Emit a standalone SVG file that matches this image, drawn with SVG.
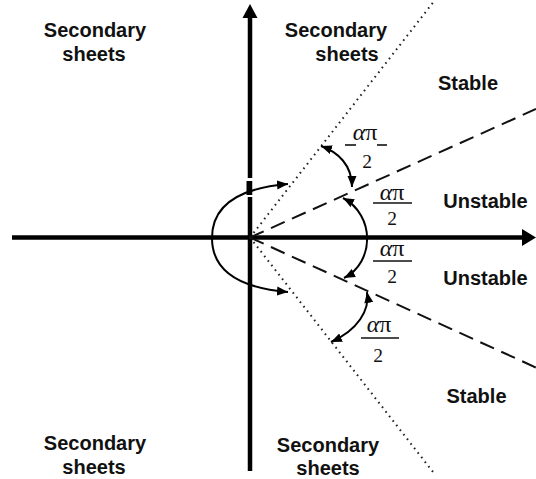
<svg xmlns="http://www.w3.org/2000/svg" width="536" height="479" viewBox="0 0 536 479">
<style>
.lbl{font-family:"Liberation Sans",Arial,sans-serif;font-weight:bold;font-size:20px;fill:#111;text-anchor:middle}
.fr{font-family:"Liberation Serif","Times New Roman",serif;fill:#111;text-anchor:middle}
.num{font-size:24px}
.den{font-size:19.5px}
.bar{stroke:#111;stroke-width:1.6}
.axis{stroke:#000;stroke-width:4.5;fill:none}
.dot{stroke:#222;stroke-width:2;stroke-dasharray:1.6 4.2;fill:none}
.dash{stroke:#111;stroke-width:2;stroke-dasharray:15 8;fill:none}
.arc{stroke:#000;stroke-width:2;fill:none;marker-start:url(#ah);marker-end:url(#ah)}
</style>
<defs>
<marker id="ah" markerUnits="userSpaceOnUse" markerWidth="12" markerHeight="10" refX="11" refY="5" orient="auto-start-reverse" viewBox="0 0 12 10">
<path d="M0,0.5 L11,5 L0,9.5 Z" fill="#000"/>
</marker>
</defs>
<rect width="536" height="479" fill="#fff"/>
<g id="axes">
<line class="axis" x1="12" y1="237.5" x2="523" y2="237.5"/>
<path d="M522,229 L536,237.5 L522,246 Z" fill="#000"/>
<line class="axis" x1="250" y1="17" x2="250" y2="471"/>
<path d="M242.5,18 L250,4 L257.5,18 Z" fill="#000"/>
<rect x="246" y="178" width="8" height="3" fill="#fff"/>
<rect x="246" y="195" width="8" height="2" fill="#fff"/>
<rect x="246.5" y="181" width="5.5" height="14" fill="#000"/>
</g>
<g id="rays">
<line class="dot" x1="250" y1="237.5" x2="435" y2="0"/>
<line class="dot" x1="250" y1="237.5" x2="433" y2="472"/>
<line class="dash" x1="250" y1="237.5" x2="536" y2="109"/>
<line class="dash" x1="250" y1="237.5" x2="537" y2="368"/>
</g>
<g id="connectors">
<path class="arc" d="M288,184 C240,188 212,205 212,238 C212,271 240,288 288,292"/>
<path class="arc" d="M321,146 C338,152 352,165 352,187"/>
<path class="arc" d="M343,198 C375,215 375,262 344,278"/>
<path class="arc" d="M367,292 C370,310 358,330 331,342"/>
</g>
<g id="fraction-1">
<text class="fr num" x="365" y="140"><tspan font-style="italic">α</tspan>π</text>
<line class="bar" x1="345" y1="145" x2="356" y2="145"/>
<line class="bar" x1="377" y1="145" x2="387" y2="145"/>
<text class="fr den" x="367" y="168">2</text>
</g>
<g id="fraction-2">
<text class="fr num" x="392" y="200"><tspan font-style="italic">α</tspan>π</text>
<line class="bar" x1="373" y1="203" x2="412" y2="203"/>
<text class="fr den" x="392" y="225">2</text>
</g>
<g id="fraction-3">
<text class="fr num" x="392" y="256"><tspan font-style="italic">α</tspan>π</text>
<line class="bar" x1="373" y1="261" x2="412" y2="261"/>
<text class="fr den" x="392" y="283">2</text>
</g>
<g id="fraction-4">
<text class="fr num" x="379" y="332"><tspan font-style="italic">α</tspan>π</text>
<line class="bar" x1="361" y1="338" x2="399" y2="338"/>
<text class="fr den" x="378" y="362">2</text>
</g>
<g id="label-tl"><text class="lbl" x="95" y="37">Secondary</text><text class="lbl" x="94" y="61">sheets</text></g>
<g id="label-tm"><text class="lbl" x="336" y="37">Secondary</text><text class="lbl" x="347" y="61">sheets</text></g>
<g id="label-bl"><text class="lbl" x="95" y="450">Secondary</text><text class="lbl" x="94" y="474">sheets</text></g>
<g id="label-bm"><text class="lbl" x="328" y="452">Secondary</text><text class="lbl" x="328" y="475">sheets</text></g>
<g id="label-stable-top"><text class="lbl" x="468" y="90">Stable</text></g>
<g id="label-unstable-top"><text class="lbl" x="485.5" y="208">Unstable</text></g>
<g id="label-unstable-bottom"><text class="lbl" x="485.5" y="285">Unstable</text></g>
<g id="label-stable-bottom"><text class="lbl" x="476.5" y="403">Stable</text></g>
</svg>
